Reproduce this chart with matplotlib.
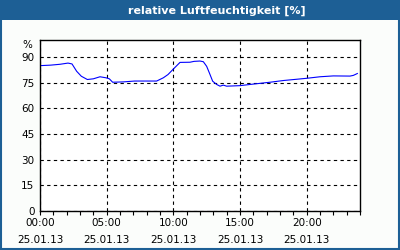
import matplotlib.pyplot as plt
from matplotlib.patches import Rectangle

# hours since 00:00 on 25.01.13 and relative humidity in %
hours = [0.0, 0.8, 1.5, 2.1, 2.4, 2.75, 3.1, 3.55, 4.0, 4.5, 4.95, 5.2, 5.45,
         6.25, 7.1, 8.75, 9.25, 9.6, 10.0, 10.5, 11.25, 11.55, 12.0, 12.25,
         12.5, 12.7, 12.95, 13.25, 13.5, 13.75, 14.0, 15.0, 15.75, 17.25,
         18.25, 20.0, 21.0, 22.0, 23.25, 23.5, 23.8]
humidity = [85.0, 85.3, 85.8, 86.5, 86.0, 81.7, 78.8, 76.9, 77.3, 78.5, 77.9,
            77.3, 75.3, 75.5, 76.0, 76.0, 77.9, 79.8, 83.0, 86.9, 87.0, 87.5,
            87.7, 87.3, 84.6, 80.8, 75.9, 74.0, 73.0, 73.6, 73.0, 73.3, 74.0,
            75.3, 76.3, 77.6, 78.5, 79.0, 78.9, 79.3, 80.4]

yticks = [0, 15, 30, 45, 60, 75, 90]
xticks = [0, 5, 10, 15, 20]
xlabels = ["00:00\n25.01.13", "05:00\n25.01.13", "10:00\n25.01.13",
           "15:00\n25.01.13", "20:00\n25.01.13"]

blue = "#1d5f95"
plt.rcParams["font.family"] = "DejaVu Sans"

fig = plt.figure(figsize=(4, 2.5), dpi=100, facecolor="#fbfdfb")

# title bar and frame
fig.patches.append(Rectangle((0, 0.92), 1, 0.08, transform=fig.transFigure,
                             facecolor=blue, edgecolor="none", zorder=0))
fig.patches.append(Rectangle((0.002, 0.004), 0.996, 0.994, transform=fig.transFigure,
                             facecolor="none", edgecolor=blue, linewidth=1.5, zorder=5))
fig.text(0.543, 0.958, "relative Luftfeuchtigkeit [%]", color="white",
         fontsize=8, fontweight="bold", ha="center", va="center")

ax = fig.add_axes([0.1, 0.156, 0.8, 0.684])
ax.set_facecolor("white")
ax.plot(hours, humidity, color="#0000ff", linewidth=0.8)

ax.set_xlim(0, 24)
ax.set_ylim(0, 100)
ax.set_yticks(yticks)
ax.set_xticks(xticks)
ax.set_xticklabels(xlabels, linespacing=1.9)
ax.set_xticks(range(0, 25), minor=True)
ax.tick_params(axis="x", which="both", direction="out", length=3, width=0.8,
               labelsize=7.5, pad=2)
ax.tick_params(axis="y", length=0, labelsize=7.5, pad=4)
ax.text(-0.025, 0.97, "%", transform=ax.transAxes, ha="right", va="center",
        fontsize=7.5)

ax.grid(True, which="major", color="black", linestyle=(0, (3, 3)), linewidth=0.8)
for s in ax.spines.values():
    s.set_linewidth(1)
    s.set_color("black")

fig.savefig("out.png", dpi=100, facecolor=fig.get_facecolor())
